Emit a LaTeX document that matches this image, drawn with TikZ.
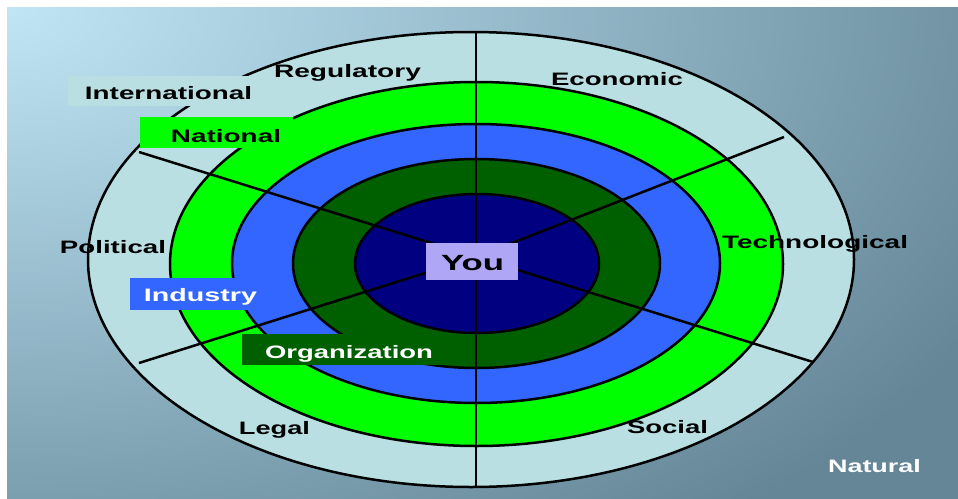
\documentclass[tikz,border=0pt]{standalone}
\usepackage{fontspec}
\setmainfont{Liberation Sans}
\usepackage{graphicx}
\definecolor{bglight}{RGB}{192,230,246}
\definecolor{bgdark}{RGB}{100,134,151}
\definecolor{ringlight}{RGB}{185,223,227}
\definecolor{ringgreen}{RGB}{0,255,0}
\definecolor{ringblue}{RGB}{51,102,255}
\definecolor{ringdkgreen}{RGB}{0,96,0}
\definecolor{ringnavy}{RGB}{0,0,128}
\definecolor{youfill}{RGB}{176,166,246}
\pgfdeclareradialshading{bgshade}{\pgfpointorigin}{color(0bp)=(bglight); color(18bp)=(bgdark); color(50bp)=(bgdark)}
\newcommand{\wtext}[2]{\resizebox{#1pt}{\height}{#2}}
\tikzset{
  ring/.style={draw=black, line width=2.5pt},
  spoke/.style={draw=black, line width=2.5pt},
  lbl/.style={anchor=base, inner sep=0pt, font=\fontsize{18}{20}\selectfont\bfseries},
  youlbl/.style={anchor=base, inner sep=0pt, font=\fontsize{22}{24}\selectfont\bfseries},
}
\begin{document}
\begin{tikzpicture}[x=1pt,y=-1pt]
\useasboundingbox (0,0) rectangle (958,498);
% background
\fill[white] (0,0) rectangle (958,498);
\begin{scope}
  \clip (7,7) rectangle (962,502);
  \fill[bgdark] (7,7) rectangle (962,502);
  \shade[shading=bgshade] (7,7) ellipse [x radius=1556, y radius=917];
\end{scope}
% rings
\path[ring, fill=ringlight]   (471,259.5) ellipse [x radius=383,   y radius=227.5];
\path[ring, fill=ringgreen]   (476.5,264) ellipse [x radius=306.5, y radius=182];
\path[ring, fill=ringblue]    (476,263.5) ellipse [x radius=244,   y radius=139.5];
\path[ring, fill=ringdkgreen] (476.5,263.5) ellipse [x radius=183.5, y radius=104.5];
\path[ring, fill=ringnavy]    (477,263.5) ellipse [x radius=122,   y radius=69.5];
% label boxes
\fill[ringlight]   (68,76)   rectangle (250,106);
\fill[ringgreen]   (140,117) rectangle (293,148);
\fill[ringblue]    (130,278) rectangle (256,310);
\fill[ringdkgreen] (242,334) rectangle (476,365);
% spokes
\coordinate (c) at (476,257);
\coordinate (top) at (476,32);
\coordinate (bot) at (476,487);
\coordinate (ul) at (139,152);
\coordinate (ur) at (784,137);
\coordinate (ll) at (139,363);
\coordinate (lr) at (813,362);
\draw[spoke] (top) -- (bot);
\draw[spoke] (ul) -- (c);
\draw[spoke] (ur) -- (c);
\draw[spoke] (ll) -- (c);
\draw[spoke] (lr) -- (c);
% You box
\fill[youfill] (426,243) rectangle (518,280);
\node[youlbl] (you) at (472.5,270) {\wtext{63}{You}};
% texts
\node[lbl] (intl) at (168.5,99) {\wtext{167}{International}};
\node[lbl] (regu) at (347.5,77) {\wtext{147}{Regulatory}};
\node[lbl] (natl) at (226,142) {\wtext{110}{National}};
\node[lbl] (econ) at (617,85) {\wtext{132}{Economic}};
\node[lbl] (tech) at (815,248) {\wtext{186}{Technological}};
\node[lbl] (poli) at (113,253) {\wtext{106}{Political}};
\node[lbl, text=white] (indu) at (200.5,301) {\wtext{113}{Industry}};
\node[lbl, text=white] (orga) at (349,358) {\wtext{168}{Organization}};
\node[lbl] (legl) at (274.5,434) {\wtext{71}{Legal}};
\node[lbl] (soci) at (667.5,433) {\wtext{81}{Social}};
\node[lbl, text=white] (natu) at (874.5,472) {\wtext{93}{Natural}};
\end{tikzpicture}
\end{document}
